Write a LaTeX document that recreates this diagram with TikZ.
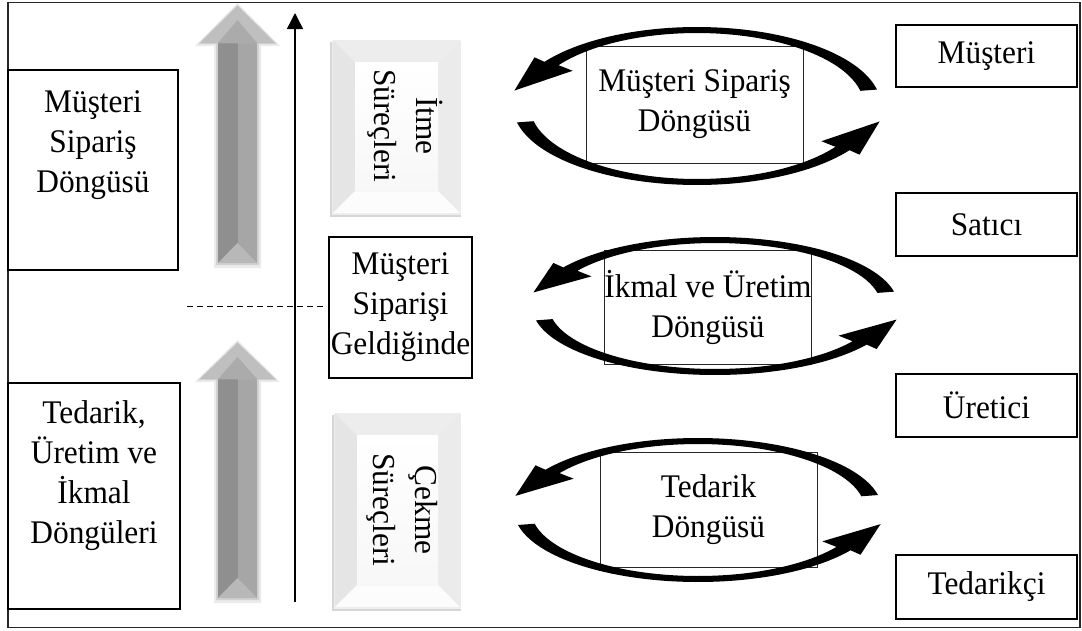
\documentclass[tikz,border=0pt]{standalone}
\usepackage{fontspec}
\setmainfont{Liberation Serif}
\usetikzlibrary{arrows.meta}

% Two tapered elliptic arcs with arrow heads: centre (#1,#2), radii #3,#4
\newcommand\loopring[4]{%
  \def\lcx{#1}\def\lcy{#2}\def\lrx{#3}\def\lry{#4}%
  \fill[black] plot[domain=12:146,samples=60] ({\lcx+\lrx*cos(\x)},{\lcy-\lry*sin(\x)})
    -- ({\lcx+(\lrx+12)*cos(146)},{\lcy-(\lry+8)*sin(146)})
    -- ({\lcx+(\lrx+2)*cos(169)},{\lcy-(\lry+2)*sin(169)})
    -- ({\lcx+(\lrx-34)*cos(146)},{\lcy-(\lry-16)*sin(146)})
    -- plot[domain=146:12,samples=60] ({\lcx+(\lrx-17)*cos(\x)},{\lcy-(\lry-6)*sin(\x)})
    -- cycle;
  \fill[black] plot[domain=192:326,samples=60] ({\lcx+\lrx*cos(\x)},{\lcy-\lry*sin(\x)})
    -- ({\lcx+(\lrx+12)*cos(326)},{\lcy-(\lry+8)*sin(326)})
    -- ({\lcx+(\lrx+2)*cos(349)},{\lcy-(\lry+2)*sin(349)})
    -- ({\lcx+(\lrx-34)*cos(326)},{\lcy-(\lry-16)*sin(326)})
    -- plot[domain=326:192,samples=60] ({\lcx+(\lrx-17)*cos(\x)},{\lcy-(\lry-6)*sin(\x)})
    -- cycle;
}

% Bevelled panel from (#1,#2) to (#3,#4), bevel width #5
\newcommand\bevelpanel[5]{%
  \fill[black!16] (#1-3,#2+2) rectangle (#3+1,#4+4);
  \fill[black!7] (#1-1,#2+1) rectangle (#3+1,#4+2);
  \fill[black!2] (#1,#2) rectangle (#3,#4);
  \fill[black!7] (#1,#2) -- (#3,#2) -- (#3-#5,#2+#5) -- (#1+#5,#2+#5) -- cycle;
  \fill[black!10] (#1,#2) -- (#1+#5,#2+#5) -- (#1+#5,#4-#5) -- (#1,#4) -- cycle;
  \fill[black!8] (#3,#2) -- (#3,#4) -- (#3-#5,#4-#5) -- (#3-#5,#2+#5) -- cycle;
  \fill[black!1] (#1,#4) -- (#3,#4) -- (#3-#5,#4-#5) -- (#1+#5,#4-#5) -- cycle;
  \shade[top color=white, bottom color=black!3] (#1+#5,#2+#5) rectangle (#3-#5,#4-#5);
}

% Grey block arrow: tip y #1, head base y #2, shaft bottom y #3
\newcommand\greyarrow[3]{%
  \fill[black!8] (214,#2+3) -- (195,#2+3) -- (237.5,#1-3) -- (280,#2+3) -- (261,#2+3) -- (261,#3+5) -- (214,#3+5) -- cycle;
  \fill[black!18] (216,#2+1) -- (198,#2+1) -- (237.5,#1-1) -- (277,#2+1) -- (259,#2+1) -- (259,#3+2) -- (216,#3+2) -- cycle;
  \fill[black!44] (218,#2) rectangle (237.5,#3);
  \fill[black!35] (237.5,#2) rectangle (257,#3);
  \fill[black!28] (218,#3) -- (237.5,#3-20) -- (257,#3) -- cycle;
  \fill[black!25] (200,#2) -- (237.5,#1) -- (275,#2) -- cycle;
  \fill[black!33] (218,#2) -- (237.5,#1+14) -- (257,#2) -- cycle;
}

\begin{document}
\begin{tikzpicture}[x=1pt,y=-1pt,
  txt/.style={font=\fontsize{33}{40}\selectfont\addfontfeature{FakeStretch=0.95}, align=center, inner sep=0pt},
  rtxt/.style={font=\fontsize{32}{42}\selectfont\addfontfeature{FakeStretch=0.98}, align=center, inner sep=0pt},
  box/.style={draw=black, line width=1.6pt, fill=white, inner sep=0pt},
  cyclebox/.style={draw=black!85, line width=0.8pt, fill=white, inner sep=0pt, txt}]
\useasboundingbox (0,0) rectangle (1082,630);

% outer frame
\draw[line width=1.6pt, black!85] (8,2.5) rectangle (1080,627.5);

% left-hand boxes
\node[box, minimum width=170pt, minimum height=200pt] (lbox1) at (93,170) {};
\node[txt] (lbox1t) at (93,145) {Müşteri\\Sipariş\\Döngüsü};
\node[box, minimum width=172pt, minimum height=226pt] (lbox2) at (94,496) {};
\node[txt] (lbox2t) at (94,476) {Tedarik,\\Üretim ve\\İkmal\\Döngüleri};

% grey block arrows
\greyarrow{6}{43}{263}
\greyarrow{343}{379}{598}

% vertical axis and the dashed split
\coordinate (axbot) at (295,602);
\coordinate (axtop) at (295,13);
\draw[line width=1.5pt, -{Triangle[width=16pt,length=16pt]}] (axbot) -- (axtop);
\coordinate (dashl) at (187,306);
\coordinate (dashr) at (325,306);
\draw[line width=1pt, dash pattern=on 6pt off 4pt] (dashl) -- (dashr);

% bevelled panels with vertical captions
\bevelpanel{333}{40}{460}{213}{22}
\node[rtxt, rotate=-90] (push) at (405,126) {İtme\\Süreçleri};
\bevelpanel{335}{413}{460}{607}{22}
\node[rtxt, rotate=-90] (pull) at (402,510) {Çekme\\Süreçleri};

% middle box
\node[box, minimum width=143pt, minimum height=141pt, txt] (mbox) at (400.5,307.5) {Müşteri\\Siparişi\\Geldiğinde};

% cycle boxes
\node[cyclebox, minimum width=217pt, minimum height=117pt] (cyc1) at (694.5,104.5) {Müşteri Sipariş\\Döngüsü};
\node[cyclebox, minimum width=206pt, minimum height=114pt] (cyc2) at (708,307) {İkmal ve Üretim\\Döngüsü};
\node[cyclebox, minimum width=217pt, minimum height=115pt] (cyc3) at (708.5,509.5) {Tedarik\\Döngüsü};

% cycle arrows
\loopring{697}{106}{184}{79}
\loopring{715}{306}{183}{69}
\loopring{698}{510}{184}{72}

% right-hand boxes
\node[box, minimum width=181pt, minimum height=62pt, txt] (cust) at (986.5,56) {Müşteri};
\node[box, minimum width=181pt, minimum height=63pt, txt] (seller) at (986.5,224.5) {Satıcı};
\node[box, minimum width=181pt, minimum height=63pt, txt] (maker) at (986.5,405.5) {Üretici};
\node[box, minimum width=181pt, minimum height=64pt, txt] (supp) at (986.5,587) {Tedarikçi};
\end{tikzpicture}
\end{document}
